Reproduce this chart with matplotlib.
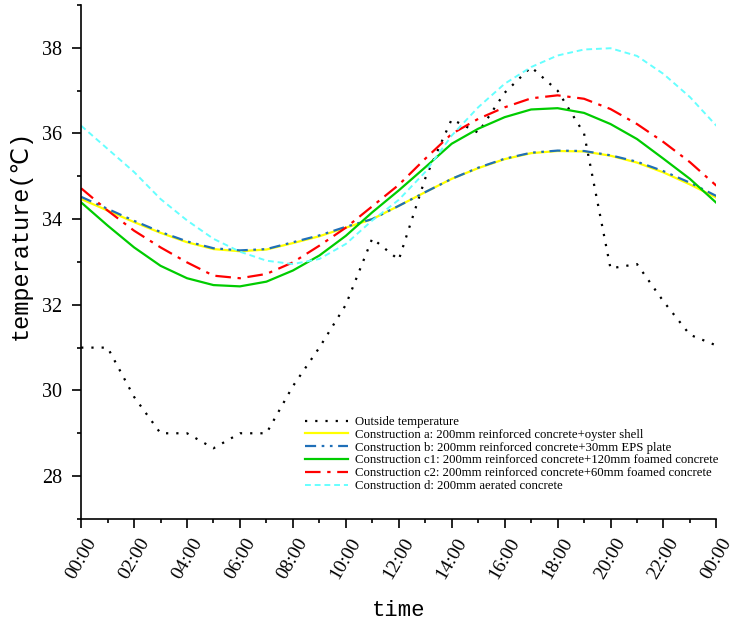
# Indoor temperature of different wall constructions over one day

import numpy as np
import matplotlib
matplotlib.use("Agg")
import matplotlib.pyplot as plt
from matplotlib.ticker import MultipleLocator

# 1. Data (hourly, 00:00 .. 24:00)
hours = list(range(25))
tick_labels = ['00:00', '02:00', '04:00', '06:00', '08:00', '10:00', '12:00',
               '14:00', '16:00', '18:00', '20:00', '22:00', '00:00']

outside = [31.0, 31.0, 29.85, 29.0, 29.0, 28.65, 29.0, 29.0, 30.1, 31.0, 32.0, 33.55, 33.05,
           34.95, 36.33, 36.02, 36.95, 37.55, 37.0, 36.0, 32.85, 32.95, 32.08, 31.3, 31.05]
cons_a = [34.47, 34.2, 33.93, 33.68, 33.46, 33.3, 33.25, 33.29, 33.44, 33.6, 33.8, 34.0, 34.31,
          34.63, 34.94, 35.19, 35.4, 35.54, 35.59, 35.58, 35.48, 35.32, 35.09, 34.81, 34.5]
cons_b = [34.52, 34.24, 33.96, 33.7, 33.48, 33.32, 33.27, 33.3, 33.46, 33.62, 33.82, 34.0, 34.31,
          34.63, 34.94, 35.2, 35.41, 35.55, 35.6, 35.59, 35.49, 35.34, 35.12, 34.85, 34.54]
cons_c1 = [34.39, 33.85, 33.34, 32.91, 32.62, 32.46, 32.43, 32.54, 32.8, 33.15, 33.61, 34.16, 34.67,
           35.21, 35.76, 36.11, 36.38, 36.56, 36.59, 36.48, 36.22, 35.87, 35.41, 34.94, 34.38]
cons_c2 = [34.72, 34.2, 33.73, 33.34, 32.99, 32.68, 32.62, 32.72, 32.99, 33.38, 33.8, 34.3, 34.8,
           35.41, 35.99, 36.34, 36.61, 36.82, 36.89, 36.81, 36.57, 36.22, 35.8, 35.33, 34.78]
cons_d = [36.18, 35.64, 35.1, 34.47, 33.97, 33.54, 33.24, 33.03, 32.95, 33.07, 33.42, 33.97, 34.45,
          35.1, 35.95, 36.61, 37.16, 37.55, 37.82, 37.96, 37.99, 37.81, 37.39, 36.85, 36.18]

names = ['Outside temperature',
         'Construction a: 200mm reinforced concrete+oyster shell',
         'Construction b: 200mm reinforced concrete+30mm EPS plate',
         'Construction c1: 200mm reinforced concrete+120mm foamed concrete',
         'Construction c2: 200mm reinforced concrete+60mm foamed concrete',
         'Construction d: 200mm aerated concrete']

# 2. Plot
fig = plt.figure(figsize=(7.31, 6.2), dpi=100)
ax = fig.add_axes([0.111, 0.163, 0.869, 0.829])

ax.plot(hours, outside, color='black', lw=1.6, linestyle=(0, (1, 3.6)), label=names[0])
ax.plot(hours, cons_a, color='#ffff00', lw=1.6, label=names[1])
ax.plot(hours, cons_b, color='#1f6fb8', lw=1.6, linestyle=(0, (5, 2.5, 1.2, 2.5, 1.2, 2.5)), label=names[2])
ax.plot(hours, cons_c1, color='#00cc00', lw=1.6, label=names[3])
ax.plot(hours, cons_c2, color='#ff0000', lw=1.6, linestyle=(0, (7, 3, 1.5, 3)), label=names[4])
ax.plot(hours, cons_d, color='#66ffff', lw=1.4, linestyle=(0, (3, 2)), label=names[5])

ax.set_xlim(0, 24)
ax.set_ylim(27, 39)
ax.set_xticks(range(0, 25, 2))
ax.set_xticklabels(tick_labels, rotation=60, ha='center', va='top',
                   family='Liberation Serif', fontsize=14)
ax.xaxis.set_minor_locator(MultipleLocator(1))
ax.set_yticks([28, 30, 32, 34, 36, 38])
ax.yaxis.set_minor_locator(MultipleLocator(1))
for lab in ax.get_yticklabels():
    lab.set_family('Liberation Serif')
    lab.set_fontsize(14.5)

for side in ['top', 'right']:
    ax.spines[side].set_visible(False)
for side in ['left', 'bottom']:
    ax.spines[side].set_linewidth(1.2)
ax.tick_params(which='major', direction='out', length=6.5, width=1.2)
ax.tick_params(which='minor', direction='out', length=3, width=1.2)
ax.tick_params(axis='y', which='major', pad=7)
ax.tick_params(axis='x', which='major', pad=5)

ax.set_xlabel('time', family=['Liberation Mono', 'DejaVu Sans'], fontsize=16, va='top')
ax.xaxis.set_label_coords(0.5, -0.157)
ax.set_ylabel('temperature(℃)', family=['Liberation Mono', 'DejaVu Sans'], fontsize=17)
ax.yaxis.set_label_coords(-0.077, 0.553)

ax.legend(loc='lower left', bbox_to_anchor=(0.342, 0.04), frameon=False, borderpad=0,
          prop={'family': 'Liberation Serif', 'size': 9.2},
          handlelength=3.4, handletextpad=0.5, labelspacing=0.06)

plt.savefig("out.png", dpi=100)
